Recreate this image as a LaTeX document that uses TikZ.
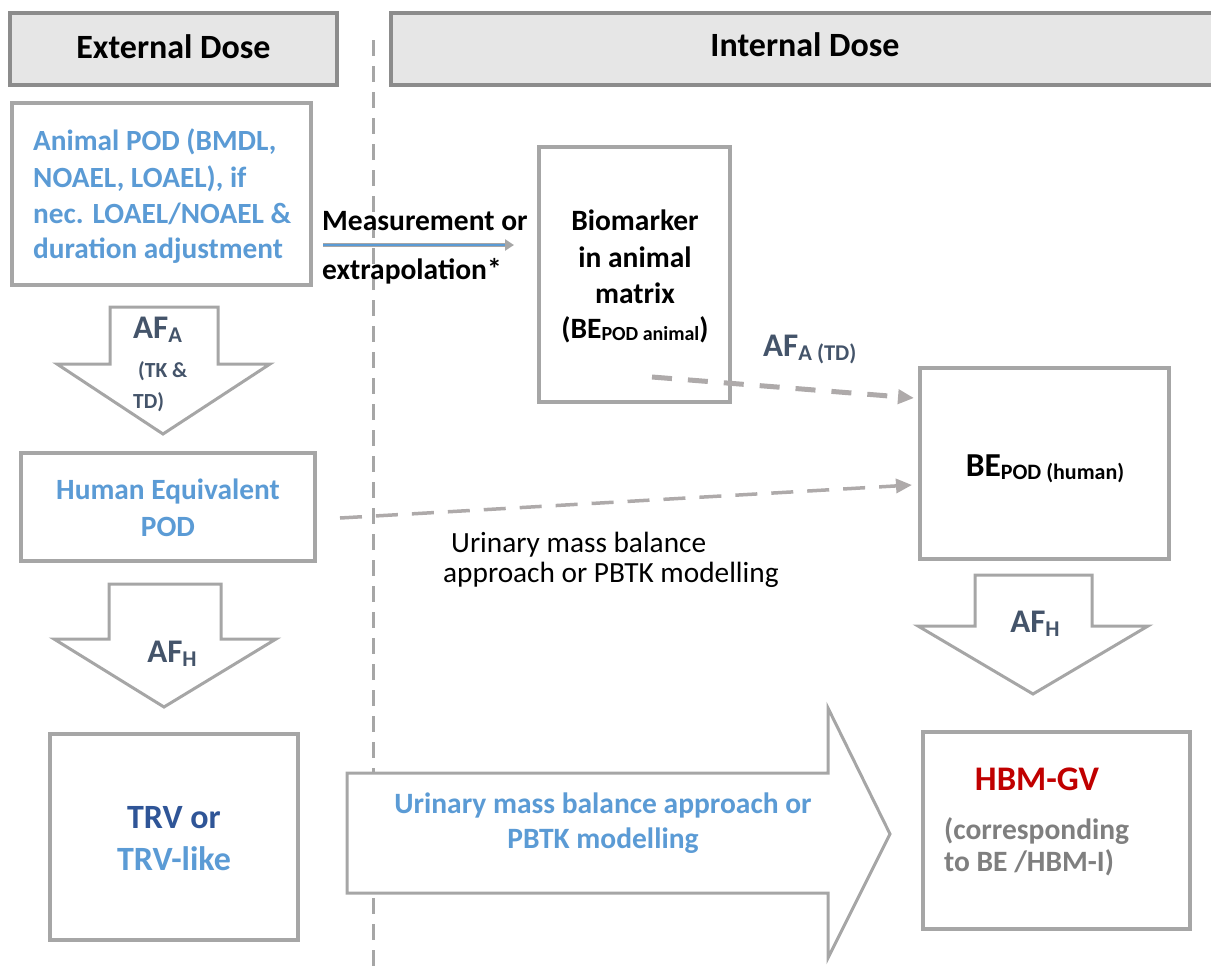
\documentclass[tikz,border=0pt]{standalone}
\usepackage{fontspec}
\setmainfont{Carlito}
\usetikzlibrary{arrows.meta}
\definecolor{bxgray}{HTML}{A6A6A6}
\definecolor{hdgray}{HTML}{8C8C8C}
\definecolor{hdfill}{HTML}{E6E6E6}
\definecolor{ltblue}{HTML}{5B9BD5}
\definecolor{slate}{HTML}{44546A}
\definecolor{dkblue}{HTML}{2F5597}
\definecolor{hbmred}{HTML}{C00000}
\definecolor{txgray}{HTML}{7F7F7F}
\definecolor{dashgray}{HTML}{AEAAAA}
\newcommand{\fs}[1]{\fontsize{#1}{#1}\selectfont}
\begin{document}
\begin{tikzpicture}[x=1pt,y=-1pt,
  box/.style={draw=bxgray, line width=3.5pt, fill=white, inner sep=0pt},
  header/.style={draw=hdgray, line width=3.5pt, fill=hdfill, inner sep=0pt},
  blockarrow/.style={draw=bxgray, line width=3pt, fill=white, line join=miter},
  txt/.style={inner sep=0pt, anchor=base, font=\bfseries},
  dasharrow/.style={draw=dashgray, -{Triangle[length=16pt,width=14pt]}},
]
\useasboundingbox (0,0) rectangle (1211,975);

% vertical dashed separator
\coordinate (sepTop) at (373,40);
\coordinate (sepBot) at (373,975);
\draw[bxgray, line width=3pt, dash pattern=on 16pt off 10pt] (sepTop) -- (sepBot);

% headers
\node[header, minimum width=327pt, minimum height=72pt] (ext) at (173.5,49) {};
\node[txt, font=\bfseries\fs{34}] (extT) at (173.5,58) {External Dose};
\node[header, minimum width=830pt, minimum height=72pt] (int) at (806,49) {};
\node[txt, font=\bfseries\fs{34}] (intT) at (805,56) {Internal Dose};

% Animal POD box
\node[box, minimum width=299pt, minimum height=182pt] (apod) at (161.5,194) {};
\node[txt, anchor=base west, text=ltblue, font=\bfseries\fs{29.3}] (ap1) at (33,150) {Animal POD (BMDL,};
\node[txt, anchor=base west, text=ltblue, font=\bfseries\fs{29.3}] (ap2) at (33,187) {NOAEL, LOAEL), if};
\node[txt, anchor=base west, text=ltblue, font=\bfseries\fs{29.3}] (ap3) at (33,223) {nec. LOAEL/NOAEL \&};
\node[txt, anchor=base west, text=ltblue, font=\bfseries\fs{29.3}] (ap4) at (33,258) {duration adjustment};

% Measurement arrow
\coordinate (mStart) at (323,245);
\coordinate (mEnd) at (514,245);
\draw[bxgray, line width=4.5pt, -{Triangle[length=9pt,width=11pt]}] (mStart) -- (mEnd);
\draw[ltblue, line width=2.2pt] (mStart) -- ++(182,0);
\node[txt, anchor=base west, font=\bfseries\fs{29.5}] (meas1) at (322,230) {Measurement or};
\node[txt, anchor=base west, font=\bfseries\fs{29.5}] (meas2) at (322,279) {extrapolation*};

% Biomarker box
\node[box, minimum width=191pt, minimum height=255pt] (bio) at (634.5,274.5) {};
\node[txt, font=\bfseries\fs{29.5}] (bio1) at (635,230) {Biomarker};
\node[txt, font=\bfseries\fs{29.5}] (bio2) at (635,267) {in animal};
\node[txt, font=\bfseries\fs{29.5}] (bio3) at (635,303) {matrix};
\node[txt, font=\bfseries\fs{29.5}] (bio4) at (635,338) {(BE\raisebox{-2.5pt}{\fs{20}POD animal})};

% AF_A (TD)
\node[txt, anchor=base west, text=slate, font=\bfseries\fs{33}] (afatd) at (763,356) {AF\raisebox{-4pt}{\fs{22.5}A (TD)}};

% BE_POD human box
\node[box, minimum width=249pt, minimum height=191pt] (behum) at (1044.5,463.5) {};
\node[txt, font=\bfseries\fs{33.5}] (behumT) at (1045,476) {BE\raisebox{-3pt}{\fs{22}POD (human)}};

% dashed connectors
\coordinate (d1s) at (652,377);
\coordinate (d1e) at (914,398);
\draw[dasharrow, line width=5pt, dash pattern=on 20pt off 16pt] (d1s) -- (d1e);
\coordinate (d2s) at (340,518);
\coordinate (d2e) at (912,485);
\draw[dasharrow, line width=3.5pt, dash pattern=on 22pt off 14pt] (d2s) -- (d2e);

\node[inner sep=0pt, anchor=base west, font=\fs{29.3}] (uri1) at (451,552) {Urinary mass balance};
\node[inner sep=0pt, anchor=base west, font=\fs{29.3}] (uri2) at (443,582) {approach or PBTK modelling};

% AF_A block arrow
\draw[blockarrow] (110,307) -- (218,307) -- (218,364) -- (270,364) -- (163,434) -- (57,364) -- (110,364) -- cycle;
\node[txt, anchor=base west, text=slate, font=\bfseries\fs{33}] (afa) at (133,338) {AF\raisebox{-4pt}{\fs{22.5}A}};
\node[txt, anchor=base west, text=slate, font=\bfseries\fs{21.5}] (tk) at (138,377) {(TK \&};
\node[txt, anchor=base west, text=slate, font=\bfseries\fs{21.5}] (td) at (133,408) {TD)};

% Human Equivalent POD box
\node[box, minimum width=294pt, minimum height=108pt] (hepod) at (168,507) {};
\node[txt, text=ltblue, font=\bfseries\fs{29.4}] (he1) at (168,499) {Human Equivalent};
\node[txt, text=ltblue, font=\bfseries\fs{29.4}] (he2) at (168,536) {POD};

% AF_H left block arrow
\draw[blockarrow] (109,584) -- (221,584) -- (221,639) -- (276,639) -- (164,707) -- (54,639) -- (109,639) -- cycle;
\node[txt, text=slate, font=\bfseries\fs{33}] (afh1) at (172,662) {AF\raisebox{-4pt}{\fs{22.5}H}};

% TRV box
\node[box, minimum width=248pt, minimum height=206pt] (trv) at (174,837) {};
\node[txt, text=dkblue, font=\bfseries\fs{34}] (trv1) at (174,828) {TRV or};
\node[txt, text=ltblue, font=\bfseries\fs{34}] (trv2) at (174,870) {TRV-like};

% big right arrow
\draw[blockarrow] (347,773) -- (828,773) -- (828,708) -- (890,834) -- (828,958) -- (828,893) -- (347,893) -- cycle;
\node[txt, text=ltblue, font=\bfseries\fs{29.5}] (big1) at (603,813) {Urinary mass balance approach or};
\node[txt, text=ltblue, font=\bfseries\fs{29.5}] (big2) at (603,848) {PBTK modelling};

% AF_H right block arrow
\draw[blockarrow] (975,575) -- (1092,575) -- (1092,626) -- (1148,626) -- (1033,694) -- (918,626) -- (975,626) -- cycle;
\node[txt, text=slate, font=\bfseries\fs{33}] (afh2) at (1035,632) {AF\raisebox{-4pt}{\fs{22.5}H}};

% HBM-GV box
\node[box, minimum width=267pt, minimum height=197pt] (hbm) at (1056.5,830.5) {};
\node[txt, text=hbmred, font=\bfseries\fs{34.5}] (hbm1) at (1037,790) {HBM-GV};
\node[txt, anchor=base west, text=txgray, font=\bfseries\fs{29.5}] (hbm2) at (944,839) {(corresponding};
\node[txt, anchor=base west, text=txgray, font=\bfseries\fs{29.5}] (hbm3) at (944,871) {to BE /HBM-I)};
\end{tikzpicture}
\end{document}
